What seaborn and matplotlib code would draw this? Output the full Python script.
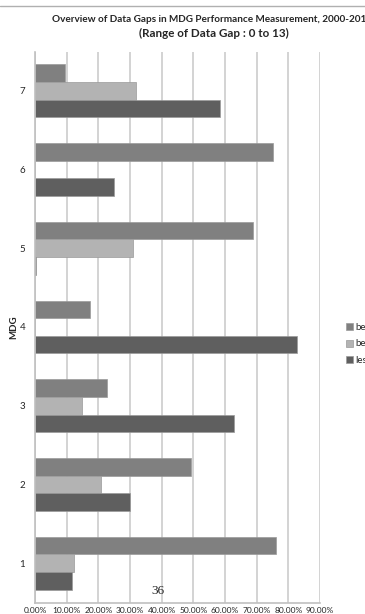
import matplotlib
matplotlib.use('Agg')
import matplotlib.pyplot as plt
import pandas as pd
import seaborn as sns
from matplotlib.lines import Line2D

# Data (share of indicators per MDG)
mdg = ['7', '6', '5', '4', '3', '2', '1']
gap_a = [0.096, 0.750, 0.689, 0.173, 0.226, 0.493, 0.760]   # medium grey, top bar
gap_b = [0.320, 0.000, 0.309, 0.000, 0.147, 0.207, 0.124]   # light grey, middle bar
gap_c = [0.584, 0.250, 0.003, 0.827, 0.627, 0.300, 0.116]   # dark grey, bottom bar
series = ['gap_a', 'gap_b', 'gap_c']
legend_labels = ['be', 'be', 'les']
x_ticks = [0.0, 0.1, 0.2, 0.3, 0.4, 0.5, 0.6, 0.7, 0.8, 0.9]
x_tick_labels = ['0.00%', '10.00%', '20.00%', '30.00%', '40.00%',
                 '50.00%', '60.00%', '70.00%', '80.00%', '90.00%']
title_1 = 'Overview of Data Gaps in MDG Performance Measurement, 2000-2013'
title_2 = '(Range of Data Gap : 0 to 13)'

df = pd.DataFrame({
    'MDG': mdg * 3,
    'share': gap_a + gap_b + gap_c,
    'group': [s for s in series for _ in mdg],
})

sns.set_style('white')
plt.rcParams['font.family'] = ['Lato', 'DejaVu Sans']

fig = plt.figure(figsize=(3.65, 6.14), dpi=100)
ax = fig.add_axes([35 / 365, 1 - 602.5 / 614, 285 / 365, 551 / 614])

colors = {'gap_a': '#808080', 'gap_b': '#b3b3b3', 'gap_c': '#5f5f5f'}
sns.barplot(data=df, y='MDG', x='share', hue='group', order=mdg, hue_order=series,
            palette=colors, width=0.67, orient='h', ax=ax,
            edgecolor='#9a9a9a', linewidth=0.5, saturation=1)

ax.set_xlim(0, 0.9)
ax.set_xticks(x_ticks)
ax.set_xticklabels(x_tick_labels, fontsize=6)
ax.xaxis.grid(True, color='#cccccc', linewidth=1.2)
ax.set_axisbelow(True)
ax.tick_params(axis='x', direction='out', length=3, color='#c0c0c0', pad=0)
ax.tick_params(axis='y', length=0, pad=7, labelsize=7)
for side in ['top', 'right']:
    ax.spines[side].set_visible(False)
for side in ['left', 'bottom']:
    ax.spines[side].set_color('#c0c0c0')
    ax.spines[side].set_linewidth(1.2)
ax.set_xlabel('')
ax.set_ylabel('MDG', fontsize=7, fontweight='bold', labelpad=1)

handles, _ = ax.get_legend_handles_labels()
ax.legend(handles, legend_labels, loc='center left', bbox_to_anchor=(346 / 365, 1 - 344 / 614),
          bbox_transform=fig.transFigure, frameon=False, fontsize=7, borderpad=0,
          borderaxespad=0, handlelength=0.7, handleheight=0.7, handletextpad=0.3,
          labelspacing=0.75)

fig.text(52 / 365, 1 - 20 / 614, title_1, ha='left', va='center',
         fontsize=7.2, fontweight='bold')
fig.text(214 / 365, 1 - 33 / 614, title_2, ha='center', va='center',
         fontsize=8.4, fontweight='bold')
fig.text(158 / 365, 1 - 591 / 614, '36', ha='center', va='center',
         fontsize=9.5, family='Liberation Serif')
fig.add_artist(Line2D([0, 1], [1 - 6 / 614] * 2, transform=fig.transFigure,
                      color='#b0b0b0', linewidth=1))

fig.savefig('out.png', dpi=100)
